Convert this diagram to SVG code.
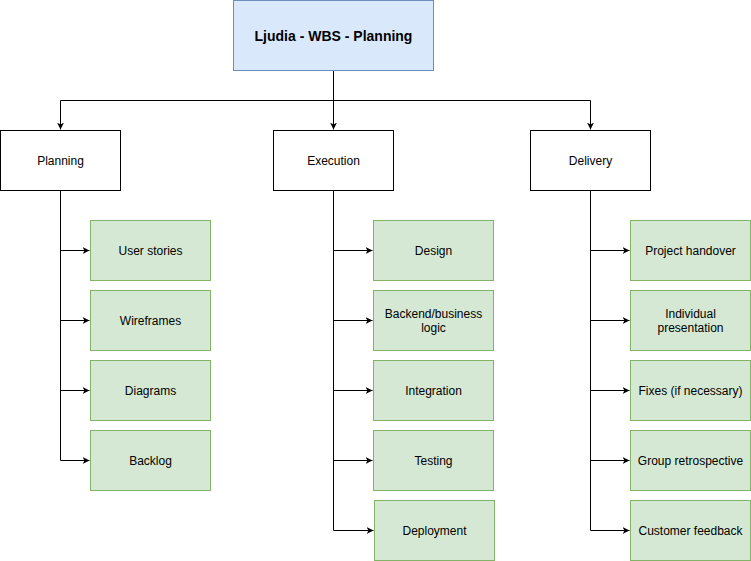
<svg xmlns="http://www.w3.org/2000/svg" width="751" height="561" viewBox="0 0 751 561">
<defs>
<marker id="arr" markerWidth="8" markerHeight="8" refX="7" refY="4" orient="auto" markerUnits="userSpaceOnUse">
<path d="M0,0.5 L7,4 L0,7.5 L2,4 Z" fill="#000"/>
</marker>
<style>
.root{fill:#dae8fc;stroke:#6c8ebf;stroke-width:1}
.l1{fill:#ffffff;stroke:#000000;stroke-width:1}
.leaf{fill:#d5e8d4;stroke:#82b366;stroke-width:1}
text{font-family:"Liberation Sans",Arial,sans-serif;font-size:12px;fill:#000;text-anchor:middle;dominant-baseline:central}
.title{font-weight:bold;font-size:14px}
.edge{fill:none;stroke:#000;stroke-width:1;marker-end:url(#arr)}
</style>
</defs>
<rect width="751" height="561" fill="#ffffff"/>
<g id="connectors">
<path class="edge" d="M333.5,70.5 V129.5"/>
<path class="edge" d="M333.5,100.5 H60.5 V129.5"/>
<path class="edge" d="M333.5,100.5 H590.5 V129.5"/>
<path class="edge" d="M60.5,190.5 V250.5 H89.5"/>
<path class="edge" d="M60.5,190.5 V320.5 H89.5"/>
<path class="edge" d="M60.5,190.5 V390.5 H89.5"/>
<path class="edge" d="M60.5,190.5 V460.5 H89.5"/>
<path class="edge" d="M333.5,190.5 V250.5 H372.5"/>
<path class="edge" d="M333.5,190.5 V320.5 H372.5"/>
<path class="edge" d="M333.5,190.5 V390.5 H372.5"/>
<path class="edge" d="M333.5,190.5 V460.5 H372.5"/>
<path class="edge" d="M333.5,190.5 V530.5 H373.5"/>
<path class="edge" d="M590.5,190.5 V250.5 H629.5"/>
<path class="edge" d="M590.5,190.5 V320.5 H629.5"/>
<path class="edge" d="M590.5,190.5 V390.5 H629.5"/>
<path class="edge" d="M590.5,190.5 V460.5 H629.5"/>
<path class="edge" d="M590.5,190.5 V530.5 H629.5"/>
</g>
<g id="root"><rect class="root" x="233.5" y="0.5" width="200" height="70"/><text class="title" x="333.5" y="36">Ljudia - WBS - Planning</text></g>
<g id="planning"><rect class="l1" x="0.5" y="130.5" width="120" height="60"/><text x="60.5" y="160.5">Planning</text></g>
<g id="execution"><rect class="l1" x="273.5" y="130.5" width="120" height="60"/><text x="333.5" y="160.5">Execution</text></g>
<g id="delivery"><rect class="l1" x="530.5" y="130.5" width="120" height="60"/><text x="590.5" y="160.5">Delivery</text></g>
<g id="user-stories"><rect class="leaf" x="90.5" y="220.5" width="120" height="60"/><text x="150.5" y="250.5">User stories</text></g>
<g id="wireframes"><rect class="leaf" x="90.5" y="290.5" width="120" height="60"/><text x="150.5" y="320.5">Wireframes</text></g>
<g id="diagrams"><rect class="leaf" x="90.5" y="360.5" width="120" height="60"/><text x="150.5" y="390.5">Diagrams</text></g>
<g id="backlog"><rect class="leaf" x="90.5" y="430.5" width="120" height="60"/><text x="150.5" y="460.5">Backlog</text></g>
<g id="design"><rect class="leaf" x="373.5" y="220.5" width="120" height="60"/><text x="433.5" y="250.5">Design</text></g>
<g id="backend"><rect class="leaf" x="373.5" y="290.5" width="120" height="60"/><text x="433.5" y="313.5">Backend/business</text><text x="433.5" y="327.5">logic</text></g>
<g id="integration"><rect class="leaf" x="373.5" y="360.5" width="120" height="60"/><text x="433.5" y="390.5">Integration</text></g>
<g id="testing"><rect class="leaf" x="373.5" y="430.5" width="120" height="60"/><text x="433.5" y="460.5">Testing</text></g>
<g id="deployment"><rect class="leaf" x="374.5" y="500.5" width="120" height="60"/><text x="434.5" y="530.5">Deployment</text></g>
<g id="handover"><rect class="leaf" x="630.5" y="220.5" width="120" height="60"/><text x="690.5" y="250.5">Project handover</text></g>
<g id="presentation"><rect class="leaf" x="630.5" y="290.5" width="120" height="60"/><text x="690.5" y="313.5">Individual</text><text x="690.5" y="327.5">presentation</text></g>
<g id="fixes"><rect class="leaf" x="630.5" y="360.5" width="120" height="60"/><text x="690.5" y="390.5">Fixes (if necessary)</text></g>
<g id="retro"><rect class="leaf" x="630.5" y="430.5" width="120" height="60"/><text x="690.5" y="460.5">Group retrospective</text></g>
<g id="feedback"><rect class="leaf" x="630.5" y="500.5" width="120" height="60"/><text x="690.5" y="530.5">Customer feedback</text></g>
</svg>
